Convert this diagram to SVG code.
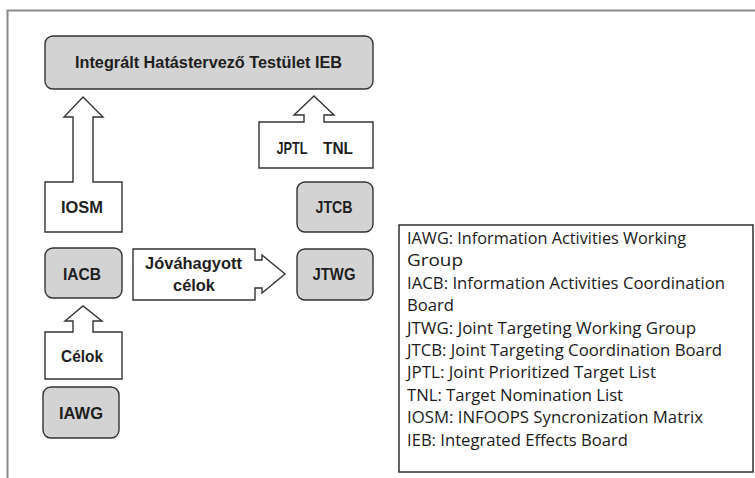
<svg xmlns="http://www.w3.org/2000/svg" width="755" height="478" viewBox="0 0 755 478">
<style>
.box{fill:#d3d3d3;stroke:#333;stroke-width:1.4}
.call{fill:#fff;stroke:#333;stroke-width:1.4;stroke-linejoin:miter}
.lbl{font-family:"Liberation Sans",Arial,sans-serif;font-weight:bold;font-size:16.5px;fill:#1e1e1e;text-anchor:middle}
.leg{font-family:"Open Sans","Liberation Sans",sans-serif;font-size:15.5px;fill:#1a1a1a}
</style>
<rect width="755" height="478" fill="#fff"/>
<path d="M7.5,478 V10.5 H755" fill="none" stroke="#8a8a8a" stroke-width="2"/>

<g id="ieb">
<rect class="box" x="45" y="36" width="328" height="53" rx="8"/>
<text class="lbl" x="208.5" y="67.5" font-size="17.5" textLength="267" lengthAdjust="spacingAndGlyphs">Integrált Hatástervező Testület IEB</text>
</g>

<g id="connectors">
<g id="iosm">
<path class="call" d="M45,182 H73 V117 H64 L83,97 L103,117 H93 V182 H122 V232 H45 Z"/>
<text class="lbl" x="82" y="213" textLength="42" lengthAdjust="spacingAndGlyphs">IOSM</text>
</g>
<g id="jptl-tnl">
<path class="call" d="M259,122 H304 V115 H294 L314,96 L334,115 H324 V122 H373 V168 H259 Z"/>
<text class="lbl" y="153.5"><tspan x="292" textLength="31" lengthAdjust="spacingAndGlyphs">JPTL</tspan><tspan x="338" textLength="30" lengthAdjust="spacingAndGlyphs">TNL</tspan></text>
</g>
<g id="jovahagyott">
<path class="call" d="M133,249 H255 V260 H262 V255 L285,274 L262,293 V288 H255 V300 H133 Z"/>
<text class="lbl" x="193.5" y="268.5" textLength="97" lengthAdjust="spacingAndGlyphs">Jóváhagyott</text>
<text class="lbl" x="194" y="290.5" textLength="42" lengthAdjust="spacingAndGlyphs">célok</text>
</g>
<g id="celok">
<path class="call" d="M45,332 H73 V321 H65 L83,306 L102,321 H93 V332 H122 V379 H45 Z"/>
<text class="lbl" x="82" y="362" textLength="42" lengthAdjust="spacingAndGlyphs">Célok</text>
</g>
</g>

<g id="jtcb">
<rect class="box" x="297" y="182" width="76" height="50" rx="8"/>
<text class="lbl" x="334" y="213" textLength="37" lengthAdjust="spacingAndGlyphs">JTCB</text>
</g>
<g id="jtwg">
<rect class="box" x="297" y="249" width="76" height="51" rx="8"/>
<text class="lbl" x="334" y="279.5" textLength="43" lengthAdjust="spacingAndGlyphs">JTWG</text>
</g>
<g id="iacb">
<rect class="box" x="45" y="248" width="77" height="50" rx="8"/>
<text class="lbl" x="82" y="279.5" textLength="38" lengthAdjust="spacingAndGlyphs">IACB</text>
</g>
<g id="iawg">
<rect class="box" x="43" y="387" width="76" height="51" rx="8"/>
<text class="lbl" x="81" y="418.5" textLength="44" lengthAdjust="spacingAndGlyphs">IAWG</text>
</g>

<g id="legend">
<rect x="399" y="225" width="354" height="247" fill="#fff" stroke="#222" stroke-width="1.4"/>
<text class="leg" x="407" y="244" textLength="279" lengthAdjust="spacingAndGlyphs">IAWG: Information Activities Working</text>
<text class="leg" x="407" y="266.4" textLength="56" lengthAdjust="spacingAndGlyphs">Group</text>
<text class="leg" x="407" y="288.8" textLength="318" lengthAdjust="spacingAndGlyphs">IACB: Information Activities Coordination</text>
<text class="leg" x="407" y="311.2" textLength="47" lengthAdjust="spacingAndGlyphs">Board</text>
<text class="leg" x="407" y="333.6" textLength="289" lengthAdjust="spacingAndGlyphs">JTWG: Joint Targeting Working Group</text>
<text class="leg" x="407" y="356" textLength="315" lengthAdjust="spacingAndGlyphs">JTCB: Joint Targeting Coordination Board</text>
<text class="leg" x="407" y="378.4" textLength="249" lengthAdjust="spacingAndGlyphs">JPTL: Joint Prioritized Target List</text>
<text class="leg" x="407" y="400.8" textLength="216" lengthAdjust="spacingAndGlyphs">TNL: Target Nomination List</text>
<text class="leg" x="407" y="423.2" textLength="296" lengthAdjust="spacingAndGlyphs">IOSM: INFOOPS Syncronization Matrix</text>
<text class="leg" x="407" y="445.6" textLength="221" lengthAdjust="spacingAndGlyphs">IEB: Integrated Effects Board</text>
</g>
</svg>
